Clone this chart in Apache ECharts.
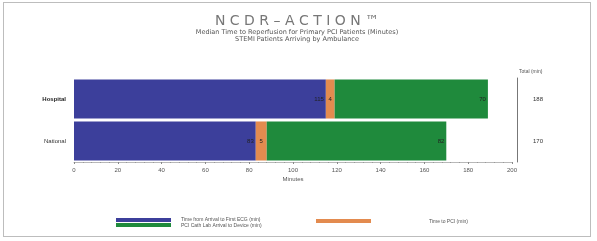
<!DOCTYPE html>
<html>
<head>
<meta charset="utf-8">
<script src="https://cdn.jsdelivr.net/npm/echarts@6/dist/echarts.min.js"></script>
<style>
  html, body { margin: 0; padding: 0; background: #fff; }
  #chart { position: absolute; left: 3px; top: 2px; width: 588px; height: 235px; border: 1px solid #bdbdbd; box-sizing: border-box; }
</style>
</head>
<body>
<div id="chart"></div>
<script>
// categories (top to bottom)
const groups = ['Hospital', 'National']
// minutes per segment
const arrivalToEcg = [115, 83]
const ecgToLab = [4, 5]
const labToDevice = [70, 82]
const totals = ['188', '170']
const xTicks = [0, 200, 20]

const chart = echarts.init(document.getElementById('chart'))
const blue = '#3c3f9b'
const orange = '#e38b4f'
const green = '#1f8a3c'
const txt = '#555'

const labelStyle = {
  show: true,
  position: 'insideRight',
  color: '#222',
  fontSize: 6,
  distance: 2
}

// categories reversed so first sits on top
const cats = groups.slice().reverse()
const rev = arr => arr.slice().reverse()

const option = {
  animation: false,
  title: {
    text: 'N C D R \u2013 A C T I O N \u2122',
    subtext: 'Median Time to Reperfusion for Primary PCI Patients (Minutes)\nSTEMI Patients Arriving by Ambulance',
    left: 'center',
    top: 6,
    itemGap: 1,
    textStyle: { fontFamily: 'DejaVu Sans', fontWeight: 'normal', fontSize: 14, color: '#777' },
    subtextStyle: { fontFamily: 'DejaVu Sans', fontSize: 6.5, color: '#555', lineHeight: 7 }
  },
  grid: { left: 70, right: 78, top: 75, bottom: 74 },
  xAxis: {
    type: 'value',
    min: xTicks[0],
    max: xTicks[1],
    interval: xTicks[2],
    name: 'Minutes',
    nameLocation: 'middle',
    nameGap: 14,
    nameTextStyle: { fontSize: 6, color: txt },
    axisLine: { show: true, lineStyle: { color: '#888', width: 0.6 } },
    axisTick: { show: true, length: 2, lineStyle: { color: '#888' } },
    minorTick: { show: true, splitNumber: 5, length: 1, lineStyle: { color: '#999' } },
    axisLabel: { fontSize: 6, color: txt, margin: 5 },
    splitLine: { show: false }
  },
  yAxis: [
    {
      type: 'category',
      data: cats,
      axisLine: { show: false },
      axisTick: { show: false },
      axisLabel: {
        fontSize: 6,
        color: '#333',
        margin: 8,
        formatter: v => v === groups[0] ? '{b|' + v + '}' : v,
        rich: { b: { fontWeight: 'bold', fontSize: 6, color: '#222' } }
      }
    },
    {
      type: 'category',
      data: rev(totals),
      position: 'right',
      offset: 5,
      name: 'Total (min)',
      nameLocation: 'end',
      nameGap: 4,
      nameTextStyle: { fontSize: 5, color: txt, align: 'left', padding: [0, 0, 0, 2] },
      axisLine: { show: true, lineStyle: { color: '#777', width: 1 } },
      axisTick: { show: false },
      axisLabel: { fontSize: 6, color: '#333', margin: 16 }
    }
  ],
  series: [
    {
      name: 'Arrival to ECG',
      type: 'bar',
      stack: 'time',
      barCategoryGap: '7%',
      itemStyle: { color: blue },
      label: labelStyle,
      data: rev(arrivalToEcg)
    },
    {
      name: 'ECG to Cath Lab',
      type: 'bar',
      stack: 'time',
      itemStyle: { color: orange },
      label: Object.assign({}, labelStyle, { position: 'inside' }),
      data: rev(ecgToLab)
    },
    {
      name: 'Cath Lab to Device',
      type: 'bar',
      stack: 'time',
      itemStyle: { color: green },
      label: labelStyle,
      data: rev(labToDevice)
    }
  ],
  graphic: [
    // legend: blue/green pair
    { type: 'rect', left: 112, top: 215, shape: { width: 55, height: 4 }, style: { fill: blue } },
    { type: 'rect', left: 112, top: 220, shape: { width: 55, height: 4 }, style: { fill: green } },
    { type: 'text', left: 177, top: 214, style: { text: 'Time from Arrival to First ECG (min)\nPCI Cath Lab Arrival to Device (min)', fontSize: 5, lineHeight: 5.5, fill: txt } },
    { type: 'rect', left: 312, top: 216, shape: { width: 55, height: 4 }, style: { fill: orange } },
    { type: 'text', left: 425, top: 216, style: { text: 'Time to PCI (min)', fontSize: 5, fill: txt } }
  ]
}

chart.setOption(option)
</script>
</body>
</html>
